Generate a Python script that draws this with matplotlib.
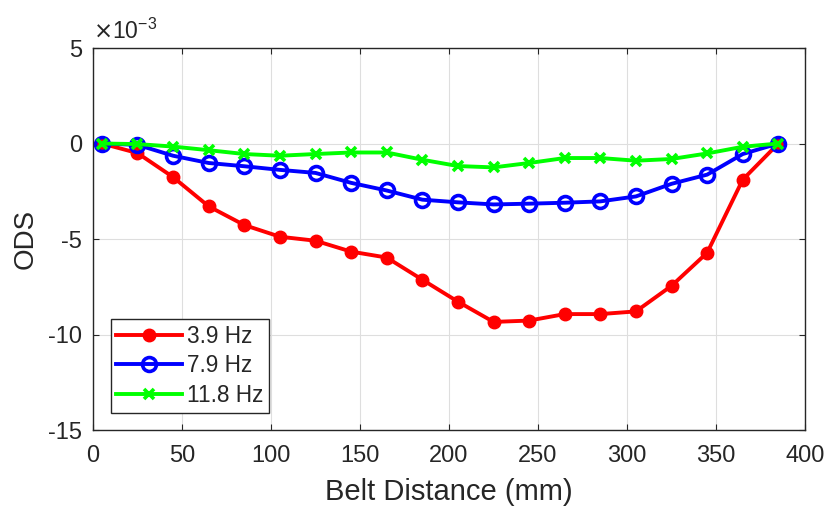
import matplotlib.pyplot as plt

plt.rcParams['font.family'] = ['Liberation Sans', 'DejaVu Sans']
plt.rcParams['axes.unicode_minus'] = False

# belt positions (mm) and ODS values (x 10^-3)
distance = [5, 25, 45, 65, 85, 105, 125, 145, 165, 185,
            205, 225, 245, 265, 285, 305, 325, 345, 365, 385]
ods_3_9 = [0, -0.5, -1.76, -3.29, -4.27, -4.88, -5.09, -5.66, -5.97, -7.13,
           -8.28, -9.34, -9.27, -8.93, -8.93, -8.79, -7.45, -5.72, -1.89, 0]
ods_7_9 = [0, -0.07, -0.64, -1.02, -1.19, -1.38, -1.54, -2.06, -2.46, -2.94,
           -3.08, -3.19, -3.15, -3.10, -3.03, -2.77, -2.11, -1.63, -0.55, 0]
ods_11_8 = [0, -0.03, -0.16, -0.35, -0.55, -0.64, -0.55, -0.47, -0.47, -0.85,
            -1.18, -1.25, -1.02, -0.76, -0.76, -0.90, -0.81, -0.52, -0.17, 0]
labels = ['3.9 Hz', '7.9 Hz', '11.8 Hz']

dark = '#262626'

fig = plt.figure(figsize=(8.28, 5.08), dpi=100)
ax = fig.add_axes([0.1123, 0.1535, 0.8600, 0.7520])

ax.plot(distance, ods_3_9, color='#ff0000', lw=2.8, marker='o', ms=9,
        mfc='#ff0000', mec='#ff0000', label=labels[0])
ax.plot(distance, ods_7_9, color='#0000ff', lw=2.8, marker='o', ms=10,
        mfc='none', mec='#0000ff', mew=2.6, label=labels[1])
ax.plot(distance, ods_11_8, color='#00ff00', lw=2.8, marker='x', ms=7,
        mec='#00ff00', mew=2.6, label=labels[2])

ax.set_xlim(0, 400)
ax.set_ylim(-15, 5)
ax.set_xticks(range(0, 401, 50))
ax.set_yticks([-15, -10, -5, 0, 5])

ax.grid(True, color='#dedede', lw=0.8)
ax.set_axisbelow(True)
ax.tick_params(direction='in', top=True, right=True, length=4,
               labelsize=17, colors=dark)
ax.tick_params(axis='x', pad=11)
ax.tick_params(axis='y', pad=8)
for s in ax.spines.values():
    s.set_color(dark)
    s.set_linewidth(1.0)

ax.set_xlabel('Belt Distance (mm)', fontsize=21, color=dark, labelpad=8)
ax.set_ylabel('ODS', fontsize=20, color=dark, labelpad=7)
ax.text(0.0, 1.01, r'$\times$10$^{\mathregular{-3}}$', transform=ax.transAxes,
        fontsize=16.5, color=dark, ha='left', va='bottom')

leg = ax.legend(loc='lower left', bbox_to_anchor=(0.025, 0.045), fontsize=16.3,
                frameon=True, fancybox=False, edgecolor=dark, framealpha=1,
                handlelength=2.9, borderpad=0.25, labelspacing=0.3,
                handletextpad=0.2, borderaxespad=0)
leg.get_frame().set_linewidth(1.0)
for t in leg.get_texts():
    t.set_color(dark)

plt.savefig('out.png', dpi=100)
